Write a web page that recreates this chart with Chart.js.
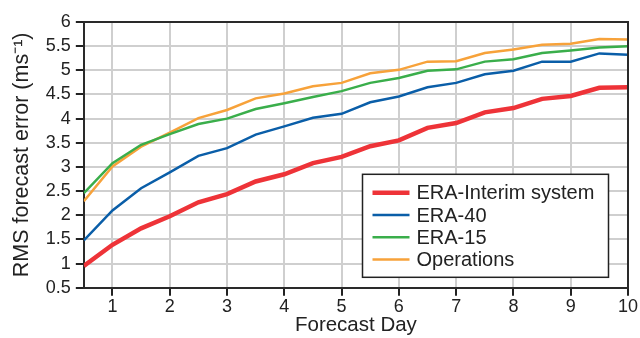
<!DOCTYPE html>
<html>
<head>
<meta charset="utf-8">
<script src="https://cdn.jsdelivr.net/npm/chart.js@4"></script>
<style>
  html, body { margin: 0; padding: 0; background: #fff; }
  #wrap { width: 640px; height: 338px; }
</style>
</head>
<body>
<div id="wrap"><canvas id="myChart"></canvas></div>
<script>
const days = [0.5, 1, 1.5, 2, 2.5, 3, 3.5, 4, 4.5, 5, 5.5, 6, 6.5, 7, 7.5, 8, 8.5, 9, 9.5, 10]
const eraInterim = [0.95, 1.39, 1.73, 1.98, 2.27, 2.44, 2.70, 2.85, 3.08, 3.21, 3.43, 3.55, 3.81, 3.91, 4.13, 4.22, 4.41, 4.47, 4.64, 4.65]
const era40 = [1.48, 2.10, 2.56, 2.89, 3.23, 3.39, 3.67, 3.84, 4.02, 4.10, 4.34, 4.46, 4.65, 4.74, 4.92, 4.99, 5.18, 5.18, 5.35, 5.32]
const era15 = [2.46, 3.08, 3.46, 3.68, 3.89, 4.00, 4.20, 4.32, 4.45, 4.57, 4.74, 4.84, 4.99, 5.02, 5.18, 5.23, 5.36, 5.41, 5.47, 5.50]
const operations = [2.29, 3.01, 3.42, 3.71, 4.01, 4.18, 4.42, 4.52, 4.67, 4.74, 4.94, 5.01, 5.18, 5.19, 5.36, 5.43, 5.53, 5.55, 5.65, 5.64]

const fontFamily = '"Liberation Sans", Arial, Helvetica, sans-serif'

function toPoints(values) {
  return values.map((v, i) => ({ x: days[i], y: v }))
}

// legend box drawn inside the plot, lower right
const boxLegend = {
  id: 'boxLegend',
  afterDatasetsDraw(chart) {
    const { ctx, chartArea } = chart
    const w = 246, h = 103
    const x0 = chartArea.right - 19.5 - w
    const y0 = chartArea.bottom - 10.5 - h
    ctx.save()
    ctx.fillStyle = '#fff'
    ctx.fillRect(x0, y0, w, h)
    ctx.strokeStyle = '#222'
    ctx.lineWidth = 1.5
    ctx.strokeRect(x0, y0, w, h)
    ctx.font = '20px ' + fontFamily
    ctx.textBaseline = 'middle'
    chart.data.datasets.forEach((ds, i) => {
      const yy = y0 + 18.5 + i * 22.2
      ctx.strokeStyle = ds.borderColor
      ctx.lineWidth = ds.borderWidth
      ctx.beginPath()
      ctx.moveTo(x0 + 10, yy)
      ctx.lineTo(x0 + 47, yy)
      ctx.stroke()
      ctx.fillStyle = '#222'
      ctx.fillText(ds.label, x0 + 54, yy + 1)
    })
    ctx.restore()
  },
  afterDraw(chart) {
    const { ctx, chartArea } = chart
    ctx.save()
    ctx.strokeStyle = '#2a2a2a'
    ctx.lineWidth = 2
    ctx.beginPath()
    ctx.moveTo(chartArea.left, chartArea.top)
    ctx.lineTo(chartArea.right, chartArea.top)
    ctx.lineTo(chartArea.right, chartArea.bottom)
    ctx.stroke()
    ctx.restore()
  }
}

const ctx = document.getElementById('myChart')

new Chart(ctx, {
  type: 'line',
  data: {
    datasets: [
      { label: 'ERA-Interim system', data: toPoints(eraInterim), borderColor: '#ee3338', borderWidth: 4.5 },
      { label: 'ERA-40', data: toPoints(era40), borderColor: '#0a5ea8', borderWidth: 2.5 },
      { label: 'ERA-15', data: toPoints(era15), borderColor: '#3aae4b', borderWidth: 2.5 },
      { label: 'Operations', data: toPoints(operations), borderColor: '#f7a23a', borderWidth: 2.5 }
    ]
  },
  options: {
    responsive: true,
    maintainAspectRatio: false,
    animation: false,
    layout: { padding: { left: 3, right: 12, top: 22, bottom: 0 } },
    elements: { point: { radius: 0 }, line: { tension: 0 } },
    plugins: { legend: { display: false }, tooltip: { enabled: false } },
    scales: {
      x: {
        type: 'linear',
        min: 0.5,
        max: 10,
        grid: { color: '#cfcfcf', lineWidth: 2, tickColor: '#222', tickLength: 8, tickWidth: 2 },
        border: { color: '#2a2a2a', width: 2 },
        ticks: {
          stepSize: 1,
          includeBounds: false,
          autoSkip: false,
          maxRotation: 0,
          padding: 0,
          color: '#222',
          font: { family: fontFamily, size: 18 }
        },
        title: {
          display: true,
          text: 'Forecast Day',
          color: '#222',
          padding: { top: -4, bottom: 0 },
          font: { family: fontFamily, size: 20.5 }
        }
      },
      y: {
        min: 0.5,
        max: 6,
        grid: { color: '#cfcfcf', lineWidth: 2, tickColor: '#222', tickLength: 8, tickWidth: 2 },
        border: { color: '#2a2a2a', width: 2 },
        ticks: {
          stepSize: 0.5,
          autoSkip: false,
          padding: 5,
          color: '#222',
          font: { family: fontFamily, size: 18 },
          callback: v => String(v)
        },
        title: {
          display: true,
          text: 'RMS forecast error (ms\u207B\u00B9)',
          color: '#222',
          padding: { top: 6, bottom: 6 },
          font: { family: fontFamily, size: 21.5 }
        }
      }
    }
  },
  plugins: [boxLegend]
})
</script>
</body>
</html>
